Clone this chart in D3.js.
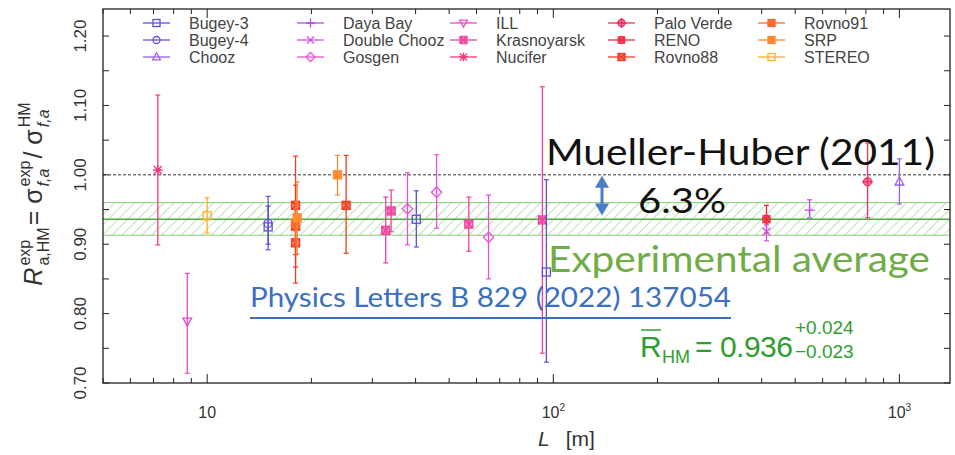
<!DOCTYPE html>
<html>
<head>
<meta charset="utf-8">
<script src="https://cdn.jsdelivr.net/npm/d3@7"></script>
<style>
  body { margin: 0; background: #fff; }
  svg { display: block; }
</style>
</head>
<body>
<svg id="chart" width="955" height="455"></svg>
<script>
// legend entries, in legend order
const experiments = ["Bugey-3","Bugey-4","Chooz","Daya Bay","Double Chooz","Gosgen","ILL","Krasnoyarsk","Nucifer","Palo Verde","RENO","Rovno88","Rovno91","SRP","STEREO"];
const expColors = ["#5b4fd9","#7050e0","#9a5ef0","#b84ee0","#d550e0","#e850d8","#f048c0","#f040a0","#f03880","#f03060","#f02840","#f03a20","#f86a30","#ff8a30","#ffb020"];
const expShapes = ["square","circle","triangle","plus","cross","diamond","tridown","sqx","star","circplus","circx","sqx","sqfill","sqfill","square"];

// measurements: experiment, baseline L [m], ratio, upper end, lower end of error bar
const measExp = ["Nucifer","ILL","STEREO","Bugey-4","Bugey-3","Rovno88","Rovno88","Rovno88","Rovno91","SRP","SRP","Rovno88","Krasnoyarsk","Krasnoyarsk","Gosgen","Bugey-3","Gosgen","Krasnoyarsk","Gosgen","Krasnoyarsk","Bugey-3","RENO","Double Chooz","Daya Bay","Palo Verde","Chooz"];
const measL   = [7.2, 8.76, 10.0, 15.0, 15.0, 18.0, 18.0, 18.0, 18.0, 18.2, 23.8, 25.2, 32.8, 34.0, 37.9, 40.2, 46.0, 57.0, 65.0, 93.0, 95.5, 413, 413, 550, 809, 1000];
const measR   = [1.007, 0.789, 0.941, 0.930, 0.925, 0.956, 0.926, 0.902, 0.930, 0.938, 1.000, 0.956, 0.920, 0.948, 0.951, 0.936, 0.975, 0.929, 0.910, 0.935, 0.860, 0.936, 0.918, 0.949, 0.990, 0.990];
const measHi  = [1.115, 0.858, 0.967, 0.969, 0.955, 1.027, 0.985, 0.960, 0.962, 0.990, 1.028, 1.028, 0.968, 0.978, 1.003, 0.977, 1.029, 0.968, 0.971, 1.127, 0.993, 0.956, 0.928, 0.964, 1.046, 1.023];
const measLo  = [0.899, 0.714, 0.916, 0.892, 0.900, 0.885, 0.867, 0.844, 0.898, 0.886, 0.971, 0.887, 0.873, 0.918, 0.899, 0.896, 0.923, 0.890, 0.850, 0.743, 0.730, 0.916, 0.905, 0.938, 0.938, 0.958];

// experimental average and its band
const avgR = 0.936, avgUp = 0.024, avgDn = 0.023;

const yTicks = [0.70, 0.80, 0.90, 1.00, 1.10, 1.20];
const xTicks = [10, 100, 1000];
const xTickLabels = [["10",""],["10","2"],["10","3"]];

const svg = d3.select("#chart");
const m = {left: 103, right: 950, top: 9, bottom: 383};

const x = d3.scaleLog().domain([5, 1400]).range([m.left, m.right]);
const y = d3.scaleLinear().domain([0.70, 1.239]).range([m.bottom, m.top]);

// hatch pattern for the band
const defs = svg.append("defs");
const pat = defs.append("pattern")
    .attr("id","hatch").attr("patternUnits","userSpaceOnUse")
    .attr("width",7).attr("height",7)
    .attr("patternTransform","rotate(45)");
pat.append("line").attr("x1",0).attr("y1",0).attr("x2",0).attr("y2",7)
    .attr("stroke","#8fd07e").attr("stroke-width",1.2);
defs.append("clipPath").attr("id","plotclip").append("rect")
    .attr("x",m.left).attr("y",m.top).attr("width",m.right-m.left).attr("height",m.bottom-m.top);

const plot = svg.append("g").attr("clip-path","url(#plotclip)");

// band
plot.append("rect")
    .attr("x",m.left).attr("width",m.right-m.left)
    .attr("y",y(avgR+avgUp)).attr("height",y(avgR-avgDn)-y(avgR+avgUp))
    .attr("fill","url(#hatch)");
[avgR+avgUp, avgR-avgDn].forEach(v => {
    plot.append("line").attr("x1",m.left).attr("x2",m.right).attr("y1",y(v)).attr("y2",y(v))
        .attr("stroke","#8acb7a").attr("stroke-width",1);
});
plot.append("line").attr("x1",m.left).attr("x2",m.right).attr("y1",y(avgR)).attr("y2",y(avgR))
    .attr("stroke","#4fae3f").attr("stroke-width",1.6);

// reference line at 1
plot.append("line").attr("x1",m.left).attr("x2",m.right).attr("y1",y(1)).attr("y2",y(1))
    .attr("stroke","#333").attr("stroke-width",1).attr("stroke-dasharray","3,2");

// markers
function drawMarker(g, shape, color, cx, cy, s) {
    const mk = g.append("g").attr("transform",`translate(${cx},${cy})`)
        .attr("stroke",color).attr("stroke-width",1.3).attr("fill","none");
    if (shape === "square") {
        mk.append("rect").attr("x",-s).attr("y",-s).attr("width",2*s).attr("height",2*s);
    } else if (shape === "circle") {
        mk.append("circle").attr("r",s);
    } else if (shape === "triangle") {
        mk.append("path").attr("d",`M0,${-s*1.2}L${s*1.1},${s*0.8}L${-s*1.1},${s*0.8}Z`);
    } else if (shape === "tridown") {
        mk.append("path").attr("d",`M0,${s*1.2}L${s*1.1},${-s*0.8}L${-s*1.1},${-s*0.8}Z`);
    } else if (shape === "plus") {
        mk.append("path").attr("d",`M${-s*1.3},0H${s*1.3}M0,${-s*1.3}V${s*1.3}`);
    } else if (shape === "cross") {
        mk.append("path").attr("d",`M${-s},${-s}L${s},${s}M${-s},${s}L${s},${-s}`);
    } else if (shape === "diamond") {
        mk.append("path").attr("d",`M0,${-s*1.3}L${s*1.3},0L0,${s*1.3}L${-s*1.3},0Z`);
    } else if (shape === "sqx") {
        mk.append("rect").attr("x",-s).attr("y",-s).attr("width",2*s).attr("height",2*s).attr("fill",color).attr("fill-opacity",0.6);
        mk.append("path").attr("d",`M${-s},${-s}L${s},${s}M${-s},${s}L${s},${-s}`);
    } else if (shape === "star") {
        mk.append("path").attr("d",`M${-s*1.2},0H${s*1.2}M0,${-s*1.2}V${s*1.2}M${-s},${-s}L${s},${s}M${-s},${s}L${s},${-s}`);
    } else if (shape === "circplus") {
        mk.append("circle").attr("r",s).attr("fill",color).attr("fill-opacity",0.6);
        mk.append("path").attr("d",`M${-s*1.4},0H${s*1.4}M0,${-s*1.4}V${s*1.4}`);
    } else if (shape === "circx") {
        mk.append("circle").attr("r",s).attr("fill",color).attr("fill-opacity",0.7);
        mk.append("path").attr("d",`M${-s},${-s}L${s},${s}M${-s},${s}L${s},${-s}`);
    } else if (shape === "sqfill") {
        mk.append("rect").attr("x",-s).attr("y",-s).attr("width",2*s).attr("height",2*s).attr("fill",color);
    }
}

// data points with error bars
measExp.forEach((e, i) => {
    const k = experiments.indexOf(e);
    const c = expColors[k];
    const px = x(measL[i]);
    const g = plot.append("g");
    g.append("line").attr("x1",px).attr("x2",px).attr("y1",y(measHi[i])).attr("y2",y(measLo[i]))
        .attr("stroke",c).attr("stroke-width",1.3);
    [measHi[i], measLo[i]].forEach(v => {
        g.append("line").attr("x1",px-2.5).attr("x2",px+2.5).attr("y1",y(v)).attr("y2",y(v))
            .attr("stroke",c).attr("stroke-width",1.2);
    });
    drawMarker(g, expShapes[k], c, px, y(measR[i]), 4);
});

// frame
svg.append("rect").attr("x",m.left).attr("y",m.top).attr("width",m.right-m.left).attr("height",m.bottom-m.top)
    .attr("fill","none").attr("stroke","#222").attr("stroke-width",1.3);

// x ticks (inward, top and bottom)
const xMinor = [];
[1, 10, 100, 1000].forEach(d => { for (let k = 1; k <= 9; k++) { const v = d*k; if (v >= 5 && v <= 1400) xMinor.push(v); } });
const tickG = svg.append("g").attr("stroke","#222").attr("stroke-width",1);
xMinor.forEach(v => {
    const major = xTicks.includes(v);
    const len = major ? 9 : 5;
    tickG.append("line").attr("x1",x(v)).attr("x2",x(v)).attr("y1",m.bottom).attr("y2",m.bottom-len);
    tickG.append("line").attr("x1",x(v)).attr("x2",x(v)).attr("y1",m.top).attr("y2",m.top+len);
});
// y ticks (inward, left and right)
d3.range(0.70, 1.2401, 0.05).forEach(v => {
    tickG.append("line").attr("x1",m.left).attr("x2",m.left+6).attr("y1",y(v)).attr("y2",y(v));
    tickG.append("line").attr("x1",m.right).attr("x2",m.right-6).attr("y1",y(v)).attr("y2",y(v));
});

// tick labels
const lab = svg.append("g").attr("font-family","Liberation Sans, Arial, sans-serif").attr("fill","#333");
yTicks.forEach(v => {
    lab.append("text").attr("transform",`translate(86,${y(v)}) rotate(-90)`)
        .attr("text-anchor","middle").attr("font-size",17).text(v.toFixed(2));
});
xTicks.forEach((v, i) => {
    const t = lab.append("text").attr("x",x(v)).attr("y",418).attr("text-anchor","middle").attr("font-size",16);
    t.append("tspan").text(xTickLabels[i][0]);
    if (xTickLabels[i][1]) t.append("tspan").attr("font-size",10).attr("dy",-7).text(xTickLabels[i][1]);
});

// axis titles
const xt = lab.append("text").attr("x",538).attr("y",446).attr("font-size",21);
xt.append("tspan").attr("font-style","italic").text("L");
xt.append("tspan").attr("dx",16).text("[m]");

// y title: main symbols with stacked sup/sub
const yt = lab.append("g").attr("transform","translate(42,193) rotate(-90)");
const ytParts = [["R","exp","a,HM"],[" = σ","exp","f,a"],[" / σ","HM","f,a"]];
let cursor = 0;
ytParts.forEach(p => {
    const base = yt.append("text").attr("x",cursor).attr("y",0).attr("font-size",25).text(p[0]);
    if (p[0] === "R") base.attr("font-style","italic");
    cursor += base.node().getComputedTextLength() + 2;
    const sup = yt.append("text").attr("x",cursor).attr("y",-12).attr("font-size",16).text(p[1]);
    const sub = yt.append("text").attr("x",cursor).attr("y",7).attr("font-size",16).text(p[2]);
    if (p[2] === "f,a") sub.attr("font-style","italic");
    cursor += Math.max(sup.node().getComputedTextLength(), sub.node().getComputedTextLength()) + 2;
});
yt.selectAll("text").attr("dx",-cursor/2);

// legend
const legCols = [143, 297, 450, 608, 758];
const legRows = [23, 40, 57];
const leg = svg.append("g").attr("font-family","Liberation Sans, Arial, sans-serif");
experiments.forEach((e, i) => {
    const cx = legCols[Math.floor(i/3)], cy = legRows[i%3];
    leg.append("line").attr("x1",cx).attr("x2",cx+27).attr("y1",cy).attr("y2",cy)
        .attr("stroke",expColors[i]).attr("stroke-width",1.3);
    drawMarker(leg, expShapes[i], expColors[i], cx+13.5, cy, 3.5);
    leg.append("text").attr("x",cx+46).attr("y",cy+5.5).attr("font-size",16).attr("fill","#444").text(e);
});

// annotations
const ann = svg.append("g").attr("font-family","Lato, Open Sans, sans-serif");
ann.append("text").attr("x",546).attr("y",165).attr("font-size",37).attr("fill","#111").attr("textLength",389).attr("lengthAdjust","spacingAndGlyphs").text("Mueller-Huber (2011)");
ann.append("text").attr("x",638).attr("y",213).attr("font-size",34).attr("fill","#111").attr("textLength",88).attr("lengthAdjust","spacingAndGlyphs").text("6.3%");
ann.append("text").attr("x",548).attr("y",272).attr("font-size",37).attr("fill","#70ad47").attr("textLength",382).attr("lengthAdjust","spacingAndGlyphs").text("Experimental average");
ann.append("text").attr("x",250).attr("y",307).attr("font-size",27).attr("fill","#3b6fc2").attr("textLength",481).attr("lengthAdjust","spacingAndGlyphs").text("Physics Letters B 829 (2022) 137054");
ann.append("line").attr("x1",250).attr("x2",731).attr("y1",318).attr("y2",318).attr("stroke","#3b6fc2").attr("stroke-width",1.8);

// double arrow for the deficit
const arrowX = 602;
ann.append("line").attr("x1",arrowX).attr("x2",arrowX).attr("y1",y(1)+8).attr("y2",y(avgR+avgUp)+4)
    .attr("stroke","#4a7cc7").attr("stroke-width",3);
ann.append("path").attr("d",`M${arrowX},${y(1)+1}l-7,12h14z`).attr("fill","#4a7cc7");
ann.append("path").attr("d",`M${arrowX},${y(avgR+avgUp)+13}l-7,-12h14z`).attr("fill","#4a7cc7");

// average formula
const fg = svg.append("g").attr("font-family","Liberation Sans, Arial, sans-serif").attr("fill","#2f9e2f");
fg.append("text").attr("x",640).attr("y",357).attr("font-size",30).text("R");
fg.append("line").attr("x1",641).attr("x2",661).attr("y1",330).attr("y2",330).attr("stroke","#2f9e2f").attr("stroke-width",1.5);
fg.append("text").attr("x",662).attr("y",363).attr("font-size",18).text("HM");
fg.append("text").attr("x",695).attr("y",357).attr("font-size",30).attr("textLength",98).text("= " + avgR.toFixed(3));
fg.append("text").attr("x",795).attr("y",334).attr("font-size",19).text("+" + avgUp.toFixed(3));
fg.append("text").attr("x",795).attr("y",358).attr("font-size",19).text("\u2212" + avgDn.toFixed(3));
</script>
</body>
</html>
